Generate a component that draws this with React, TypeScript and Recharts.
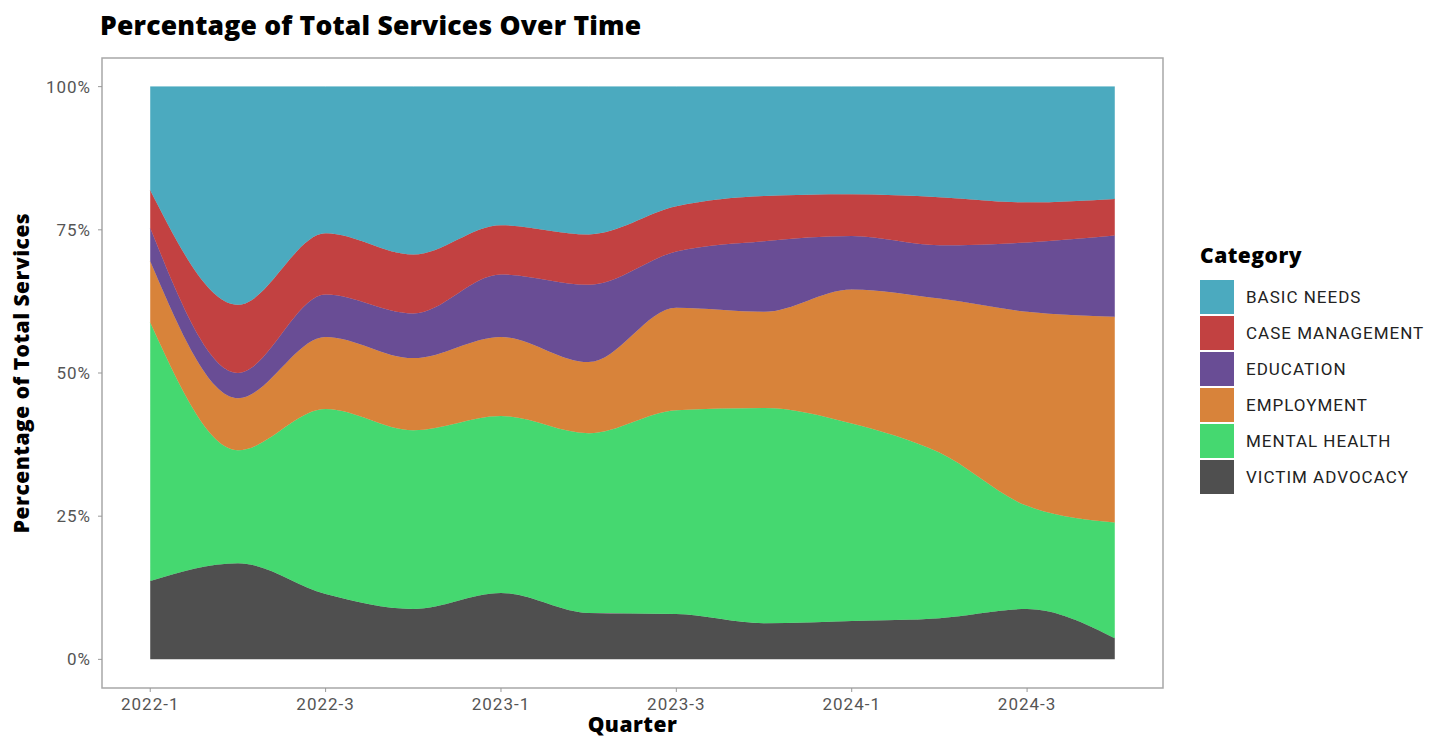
import React from "react";
import { AreaChart, Area, XAxis, YAxis, ReferenceArea } from "recharts";

// quarters on the x axis
const quarters = [
  "2022-1", "2022-2", "2022-3", "2022-4",
  "2023-1", "2023-2", "2023-3", "2023-4",
  "2024-1", "2024-2", "2024-3", "2024-4",
];

// share of total services per category (%)
const victimAdvocacy = [13.7, 16.8, 11.4, 8.8, 11.6, 8.1, 7.9, 6.3, 6.7, 7.2, 8.8, 3.7];
const mentalHealth = [45.1, 19.7, 32.3, 31.2, 30.9, 31.4, 35.6, 37.6, 34.5, 28.9, 18.0, 20.2];
const employment = [10.7, 9.1, 12.6, 12.6, 13.8, 12.4, 17.9, 16.8, 23.4, 26.9, 33.9, 35.9];
const education = [5.8, 4.4, 7.4, 7.8, 10.9, 13.5, 9.8, 12.3, 9.3, 9.3, 12.1, 14.2];
const caseManagement = [6.6, 11.9, 10.7, 10.3, 8.6, 8.8, 7.9, 7.9, 7.3, 8.4, 7.0, 6.4];
const basicNeeds = [18.1, 38.1, 25.6, 29.3, 24.2, 25.8, 20.9, 19.1, 18.8, 19.3, 20.2, 19.6];

const yTicks = [0, 25, 50, 75, 100];
const xTicks = [0, 2, 4, 6, 8, 10];

// bottom to top stacking order
const categories = [
  { key: "va", name: "VICTIM ADVOCACY", color: "#4F4F4F" },
  { key: "mh", name: "MENTAL HEALTH", color: "#45D870" },
  { key: "emp", name: "EMPLOYMENT", color: "#D8833A" },
  { key: "edu", name: "EDUCATION", color: "#694D95" },
  { key: "cm", name: "CASE MANAGEMENT", color: "#C24141" },
  { key: "bn", name: "BASIC NEEDS", color: "#4BAABF" },
];

const data = quarters.map((q, i) => ({
  i,
  quarter: q,
  va: victimAdvocacy[i],
  mh: mentalHealth[i],
  emp: employment[i],
  edu: education[i],
  cm: caseManagement[i],
  bn: basicNeeds[i],
}));

const tickFont = "Roboto, 'Noto Sans', sans-serif";
const boldFont = "'Open Sans', 'Noto Sans', sans-serif";

const CategoryLegend = () => (
  <div
    style={{
      position: "absolute",
      left: 1192,
      top: 233,
      fontFamily: tickFont,
    }}
  >
    <div
      style={{
        fontFamily: boldFont,
        fontWeight: 800,
        fontSize: 21,
        letterSpacing: 0.5,
        color: "#000",
        marginBottom: 10,
      }}
    >
      Category
    </div>
    {[...categories].reverse().map((c) => (
      <div
        key={c.key}
        style={{ display: "flex", alignItems: "center", height: 36 }}
      >
        <div style={{ width: 34, height: 34, background: c.color }} />
        <span
          style={{
            marginLeft: 12,
            fontSize: 17,
            letterSpacing: 1,
            color: "#222",
            whiteSpace: "nowrap",
          }}
        >
          {c.name}
        </span>
      </div>
    ))}
  </div>
);

export default function App() {
  return (
    <div style={{ position: "relative", width: 1426, height: 728 }}>
      <div
        style={{
          position: "absolute",
          left: 92,
          top: -1,
          fontFamily: boldFont,
          fontWeight: 800,
          fontSize: 26.5,
          letterSpacing: 0.2,
          color: "#000",
          whiteSpace: "nowrap",
        }}
      >
        Percentage of Total Services Over Time
      </div>
      <AreaChart
        width={1426}
        height={728}
        data={data}
        margin={{ top: 50, right: 271, bottom: 0, left: 0 }}
      >
        <XAxis
          dataKey="i"
          type="number"
          domain={[-0.55, 11.55]}
          ticks={xTicks}
          tickFormatter={(v: number) => quarters[v]}
          allowDataOverflow
          axisLine={false}
          tickLine={{ stroke: "#999" }}
          tickSize={4}
          tickMargin={6}
          height={48}
          tick={{ fontSize: 17, fill: "#555", fontFamily: tickFont, letterSpacing: 1 }}
          label={{
            value: "Quarter",
            position: "insideBottom",
            offset: 4,
            style: {
              fontFamily: boldFont,
              fontWeight: 800,
              fontSize: 21,
              letterSpacing: 0.5,
              fill: "#000",
            },
          }}
        />
        <YAxis
          type="number"
          domain={[-5, 105]}
          ticks={yTicks}
          tickFormatter={(v: number) => `${v}%`}
          allowDataOverflow
          axisLine={false}
          tickLine={{ stroke: "#999" }}
          tickSize={4}
          tickMargin={7}
          width={94}
          tick={{ fontSize: 17, fill: "#555", fontFamily: tickFont, letterSpacing: 1 }}
          label={{
            value: "Percentage of Total Services",
            angle: -90,
            position: "insideLeft",
            offset: 14,
            style: {
              textAnchor: "middle",
              fontFamily: boldFont,
              fontWeight: 800,
              fontSize: 21,
              letterSpacing: 0.5,
              fill: "#000",
            },
          }}
        />
        {categories.map((c) => (
          <Area
            key={c.key}
            dataKey={c.key}
            name={c.name}
            stackId="1"
            type="monotone"
            fill={c.color}
            fillOpacity={1}
            stroke={c.color}
            strokeWidth={0.5}
            isAnimationActive={false}
          />
        ))}
        <ReferenceArea
          x1={-0.55}
          x2={11.55}
          y1={-5}
          y2={105}
          fill="none"
          fillOpacity={0}
          stroke="#a8a8a8"
          strokeWidth={1.5}
          ifOverflow="visible"
        />
      </AreaChart>
      <CategoryLegend />
    </div>
  );
}
